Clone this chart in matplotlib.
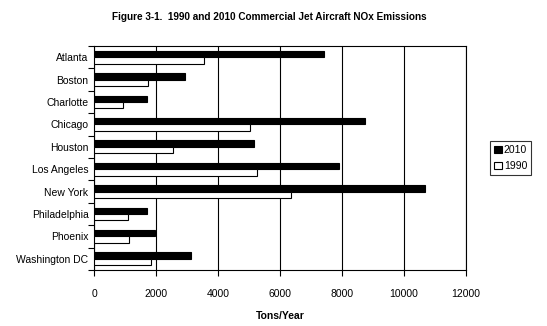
import matplotlib
matplotlib.use("Agg")
import matplotlib.pyplot as plt
import numpy as np

cities = ["Atlanta", "Boston", "Charlotte", "Chicago", "Houston", "Los Angeles",
          "New York", "Philadelphia", "Phoenix", "Washington DC"]
nox_2010 = [7420, 2930, 1700, 8740, 5150, 7900, 10680, 1700, 1970, 3120]
nox_1990 = [3550, 1750, 950, 5040, 2560, 5270, 6370, 1110, 1140, 1830]
xticks = [0, 2000, 4000, 6000, 8000, 10000, 12000]

plt.rcParams['font.family'] = ['Liberation Sans', 'DejaVu Sans']

fig = plt.figure(figsize=(5.47, 3.26), dpi=100)
ax = fig.add_axes([94/547, 1-270/326, 372/547, 224/326])

n = len(cities)
y = np.arange(n)
h = 0.29
ax.barh(y - h/2, nox_2010, height=h, color='black', edgecolor='black', linewidth=0.8, label='2010', zorder=3)
ax.barh(y + h/2, nox_1990, height=h, color='white', edgecolor='black', linewidth=0.8, label='1990', zorder=3)

ax.set_xlim(0, 12000)
ax.set_ylim(n - 0.5, -0.5)
ax.set_xticks(xticks)
ax.set_xticklabels([str(v) for v in xticks], fontsize=7.5)
ax.set_yticks(y)
ax.set_yticklabels(cities, fontsize=7.5)
ax.tick_params(axis='y', length=0, pad=4)
ax.set_yticks(np.arange(n + 1) - 0.5, minor=True)
ax.tick_params(axis='y', which='minor', length=4, width=0.8, direction='out')
ax.tick_params(axis='x', length=4, width=0.8, direction='out', pad=10)
ax.xaxis.grid(True, color='black', linewidth=0.8, zorder=0)
for s in ax.spines.values():
    s.set_linewidth(0.8)

ax.set_xlabel("Tons/Year", fontsize=7.5, fontweight='bold', labelpad=8)
fig.text(269/547, 1-17/326, "Figure 3-1.  1990 and 2010 Commercial Jet Aircraft NOx Emissions",
         ha='center', va='center', fontsize=7.2, fontweight='bold')

leg = ax.legend(loc='center left', bbox_to_anchor=(1.065, 0.5), fontsize=7.5,
                frameon=True, fancybox=False, edgecolor='black',
                handlelength=0.7, handleheight=0.7, handletextpad=0.2,
                borderpad=0.4, labelspacing=0.6, borderaxespad=0)
leg.get_frame().set_linewidth(0.8)

fig.savefig("out.png", dpi=100)
